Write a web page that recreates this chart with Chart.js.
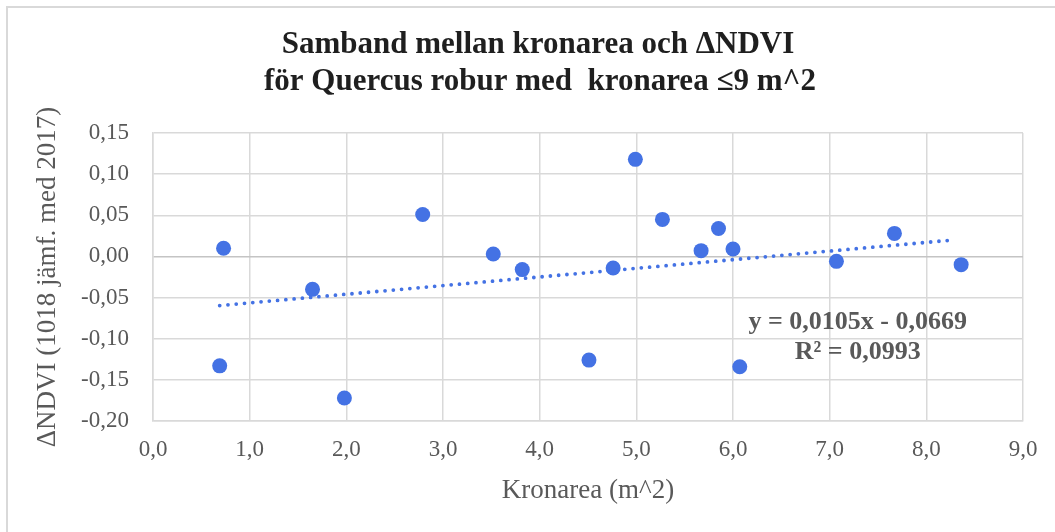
<!DOCTYPE html>
<html>
<head>
<meta charset="utf-8">
<script src="https://cdn.jsdelivr.net/npm/chart.js@4.4.1/dist/chart.umd.min.js"></script>
<style>
  html, body { margin: 0; padding: 0; background: #fff; }
  .wrap { position: relative; width: 1055px; height: 532px; overflow: hidden; }
  .frame {
    position: absolute; left: 6px; top: 6px; width: 1100px; height: 600px;
    border-top: 2px solid #d9d9d9; border-left: 2px solid #d9d9d9;
    pointer-events: none;
  }
</style>
</head>
<body>
<div class="wrap">
  <canvas id="scatterChart" width="1055" height="532"></canvas>
  <div class="frame"></div>
</div>
<script>
// data
const kronarea = [0.69, 0.73, 1.65, 1.98, 2.79, 3.52, 3.82, 4.51, 4.76, 4.99, 5.27, 5.67, 5.85, 6.00, 6.07, 7.07, 7.67, 8.36];
const deltaNdvi = [-0.133, 0.010, -0.040, -0.172, 0.051, 0.003, -0.016, -0.126, -0.014, 0.118, 0.045, 0.007, 0.034, 0.009, -0.134, -0.006, 0.028, -0.010];

// linear trendline end points (Excel)
const trendX = [0.69, 8.3];
const trendY = [-0.0597, 0.0202];

const titleLines = ["Samband mellan kronarea och \u0394NDVI", "f\u00f6r Quercus robur med  kronarea \u22649 m^2"];
const trendLabel = ["y = 0,0105x - 0,0669", "R\u00b2 = 0,0993"];
const xTitle = "Kronarea (m^2)";
const yTitle = "\u0394NDVI (1018 j\u00e4mf. med 2017)";

const blue = "#4472e4";
const grey = "#595959";
const gridGrey = "#d9d9d9";
const serif = "'Liberation Serif', 'Times New Roman', serif";

// 0.1 -> "0,10", and no "-0,00"
const fmt = (v, d) => (Math.abs(v) < 1e-9 ? 0 : v).toFixed(d).replace(".", ",");

// title + trendline equation
const textPlugin = {
  id: "textPlugin",
  afterDraw(chart) {
    const ctx = chart.ctx;
    ctx.save();
    ctx.textAlign = "center";
    ctx.textBaseline = "middle";
    ctx.fillStyle = "#1f1f1f";
    ctx.font = "bold 31px " + serif;
    ctx.fillText(titleLines[0], 538, 45);
    ctx.fillText(titleLines[1], 540, 82);

    ctx.fillStyle = grey;
    ctx.font = "bold 26px " + serif;
    const x = chart.scales.x.getPixelForValue(7.29);
    ctx.fillText(trendLabel[0], x, chart.scales.y.getPixelForValue(-0.080));
    ctx.fillText(trendLabel[1], x, chart.scales.y.getPixelForValue(-0.116));
    ctx.restore();
  },
};

const ctx = document.getElementById("scatterChart").getContext("2d");

new Chart(ctx, {
  type: "scatter",
  data: {
    datasets: [
      {
        label: "Data",
        data: kronarea.map((x, i) => ({ x: x, y: deltaNdvi[i] })),
        backgroundColor: blue,
        borderWidth: 0,
        pointRadius: 7.5,
        order: 1,
      },
      {
        label: "Trend",
        type: "line",
        data: trendX.map((x, i) => ({ x: x, y: trendY[i] })),
        borderColor: blue,
        borderWidth: 3.8,
        borderDash: [0, 8.3],
        borderCapStyle: "round",
        pointRadius: 0,
        fill: false,
        order: 0,
      },
    ],
  },
  options: {
    responsive: false,
    animation: false,
    layout: {
      padding: { top: 133, right: 32, bottom: 0, left: 0 },
    },
    plugins: {
      legend: { display: false },
      tooltip: { enabled: false },
    },
    scales: {
      x: {
        type: "linear",
        min: 0,
        max: 9,
        afterFit: (scale) => { scale.height = 111; },
        ticks: {
          stepSize: 1,
          padding: 15,
          color: grey,
          font: { family: serif, size: 23 },
          callback: (v) => fmt(v, 1),
        },
        grid: { color: gridGrey, lineWidth: 1.5, drawTicks: false },
        border: { color: gridGrey, width: 1.5 },
        title: {
          display: true,
          text: xTitle,
          color: grey,
          font: { family: serif, size: 27 },
          padding: { top: 0, bottom: 25 },
        },
      },
      y: {
        min: -0.2,
        max: 0.15,
        afterFit: (scale) => { scale.width = 153; },
        ticks: {
          stepSize: 0.05,
          padding: 24,
          color: grey,
          font: { family: serif, size: 23 },
          callback: (v) => fmt(v, 2),
        },
        grid: {
          color: (c) => (c.tick && Math.abs(c.tick.value) < 1e-9 ? "#c4c4c4" : gridGrey),
          lineWidth: 1.5,
          drawTicks: false,
        },
        border: { color: gridGrey, width: 1.5 },
        title: {
          display: true,
          text: yTitle,
          color: grey,
          font: { family: serif, size: 27 },
          padding: { top: 32, bottom: 0 },
        },
      },
    },
  },
  plugins: [textPlugin],
});
</script>
</body>
</html>
